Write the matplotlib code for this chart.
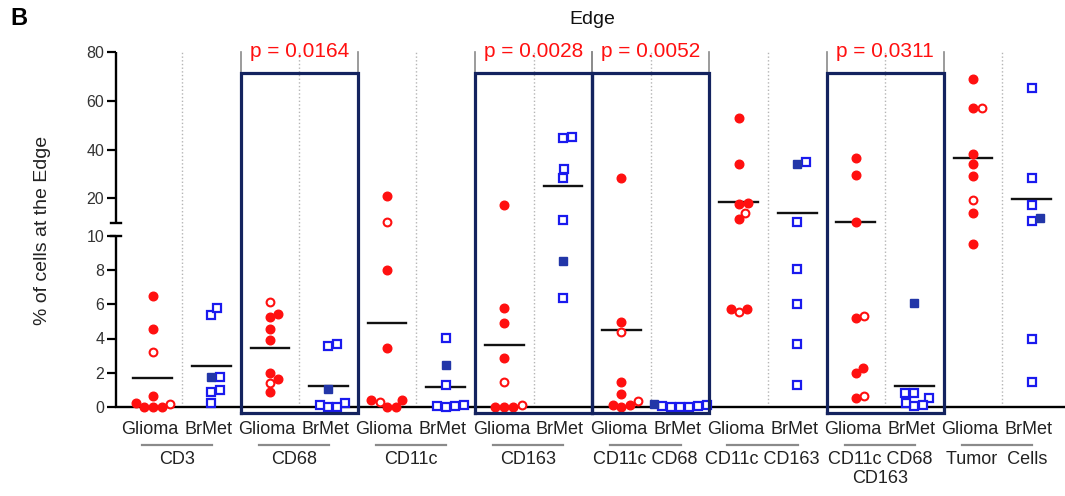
import matplotlib
matplotlib.use("Agg")
import matplotlib.pyplot as plt
import numpy as np
from matplotlib.transforms import blended_transform_factory

plt.rcParams['font.family'] = ['Liberation Sans', 'DejaVu Sans']

# ---- data -------------------------------------------------------------
groups = ["CD3", "CD68", "CD11c", "CD163", "CD11c CD68", "CD11c CD163",
          "CD11c CD68\nCD163", "Tumor  Cells"]

glioma = [
    [6.47, 4.54, 3.19, 0.65, 0.23, 0, 0, 0.14, 0],
    [6.16, 5.26, 5.42, 4.54, 3.91, 1.96, 1.41, 1.61, 0.84],
    [21.1, 10.4, 8.02, 3.43, 0.39, 0.39, 0, 0, 0.29],
    [17.3, 5.77, 4.89, 2.84, 1.45, 0, 0.1, 0, 0],
    [28.3, 4.97, 4.38, 1.47, 0.73, 0.33, 0, 0.1, 0.1],
    [53.0, 34.3, 17.7, 18.2, 13.9, 11.4, 5.54, 5.73, 5.71],
    [36.7, 29.6, 10.4, 5.2, 5.33, 2.0, 2.29, 0.49, 0.63],
    [69.0, 57.0, 57.3, 38.1, 34.1, 29.3, 19.2, 14.1, 9.56],
]
# 1 = open circle
glioma_open = [
    [0, 0, 1, 0, 0, 0, 0, 1, 0],
    [1, 0, 0, 0, 0, 0, 1, 0, 0],
    [0, 1, 0, 0, 0, 0, 0, 0, 1],
    [0, 0, 0, 0, 1, 0, 1, 0, 0],
    [0, 0, 1, 0, 0, 1, 0, 0, 0],
    [0, 0, 0, 0, 1, 0, 1, 0, 0],
    [0, 0, 0, 0, 1, 0, 0, 0, 1],
    [0, 0, 1, 0, 0, 0, 1, 0, 0],
]

brmet = [
    [5.38, 5.77, 1.72, 1.72, 0.84, 1.0, 0.2],
    [3.58, 3.68, 1.06, 0, 0.2, 0, 0.12],
    [4.05, 2.45, 1.27, 0, 0.06, 0.04, 0.1],
    [44.9, 45.3, 32.0, 28.5, 11.2, 8.56, 6.39],
    [0.05, 0.15, 0.1, 0.05, 0, 0, 0],
    [34.1, 34.9, 10.4, 8.06, 6.0, 3.68, 1.27],
    [6.06, 0.82, 0.82, 0.49, 0.04, 0.2, 0.1],
    [65.2, 28.5, 17.3, 10.6, 11.8, 3.99, 1.47],
]
# 1 = filled square
brmet_filled = [
    [0, 0, 1, 0, 0, 0, 0],
    [0, 0, 1, 0, 0, 0, 0],
    [0, 1, 0, 0, 0, 0, 0],
    [0, 0, 0, 0, 0, 1, 0],
    [0, 1, 0, 0, 0, 0, 0],
    [1, 0, 0, 0, 0, 0, 0],
    [1, 0, 0, 0, 0, 0, 0],
    [0, 0, 0, 0, 1, 0, 0],
]

boxed = [1, 3, 4, 6]
pvals = ["p = 0.0164", "p = 0.0028", "p = 0.0052", "p = 0.0311"]

yticks = [0, 2, 4, 6, 8, 10, 20, 40, 60, 80]

# ---- broken y scale (pixel units) ---------------------------------------
A = 17.05     # px per unit below break
B = 2.435     # px per unit above break
GAP = 13.5
BRK = 10.0


def fwd(v):
    v = np.asarray(v, float)
    return np.where(v <= BRK, v * A, BRK * A + GAP + (v - BRK) * B)


def inv(u):
    u = np.asarray(u, float)
    return np.where(u <= BRK * A, u / A,
                    np.where(u < BRK * A + GAP, BRK, BRK + (u - BRK * A - GAP) / B))


XPX = 58.57   # px per x unit
D = 8.6       # marker spacing in px


def swarm(vals):
    y = fwd(vals)
    xs = np.zeros(len(vals))
    placed = []
    cands = [0.0]
    for k in np.arange(0.5, 80, 0.5):
        cands += [k, -k]
    for i in np.argsort(y, kind="stable"):
        for c in cands:
            ok = True
            for (px, py) in placed:
                if (c - px) ** 2 + (y[i] - py) ** 2 < D ** 2:
                    ok = False
                    break
            if ok:
                xs[i] = c
                placed.append((c, y[i]))
                break
    return xs / XPX


W, H = 1065, 496
fig = plt.figure(figsize=(W / 100, H / 100), dpi=100)
ax_h = float(fwd(80))
ax = fig.add_axes([116 / W, (H - 406.7) / H, (W - 116) / W, ax_h / H])
ax.set_yscale('function', functions=(fwd, inv))
ax.set_ylim(0, 80)
ax.set_xlim(-0.626, 15.57)

red = "#ff1010"
blue = "#1a1aee"
dblue = "#2236a8"
navy = "#14235f"

# dotted separators in the middle of each pair
for k in range(len(groups)):
    ax.plot([2 * k + 0.5, 2 * k + 0.5], [0, 80], ls=":", color="#b5b5b5", lw=1, zorder=1)

# data points + means
for k in range(len(groups)):
    g = np.array(glioma[k])
    gx = 2 * k + swarm(g)
    go = np.array(glioma_open[k], bool)
    ax.plot(gx[~go], g[~go], 'o', ms=6.2, color=red, mec=red, ls="none", clip_on=False, zorder=4)
    ax.plot(gx[go], g[go], 'o', ms=5.6, mfc="white", mec=red, mew=1.5, ls="none", clip_on=False, zorder=4)
    ax.plot([2 * k - 0.33, 2 * k + 0.33], [g.mean()] * 2, color="#111111", lw=1.7, zorder=3)

    b = np.array(brmet[k])
    bx = 2 * k + 1 + swarm(b)
    bf = np.array(brmet_filled[k], bool)
    ax.plot(bx[~bf], b[~bf], 's', ms=5.6, mfc="white", mec=blue, mew=1.6, ls="none", clip_on=False, zorder=4)
    ax.plot(bx[bf], b[bf], 's', ms=6.4, color=dblue, mec=dblue, ls="none", clip_on=False, zorder=4)
    ax.plot([2 * k + 1 - 0.33, 2 * k + 1 + 0.33], [b.mean()] * 2, color="#111111", lw=1.7, zorder=3)

# significance boxes and brackets
for k, p in zip(boxed, pvals):
    x0, x1 = 2 * k - 0.5, 2 * k + 1.5
    ax.plot([x0, x1, x1, x0, x0], [-0.37, -0.37, 71.5, 71.5, -0.37], color=navy, lw=2.3,
            clip_on=False, zorder=5, solid_joinstyle="miter")
    for xe in (x0, x1):
        ax.plot([xe, xe], [71.5, 80], color="#8a8a8a", lw=1.2, clip_on=False, zorder=2)
    ax.text(2 * k + 0.5, 78.1, p, color=red, fontsize=15, ha="center", va="baseline", clip_on=False)

# axes styling
for s in ("top", "right", "left"):
    ax.spines[s].set_visible(False)
ax.spines["bottom"].set_linewidth(1.7)
ax.spines["bottom"].set_zorder(3)

ytr = ax.get_yaxis_transform()
cap = 5 / (W - 116)
ax.plot([0, 0], [0, BRK], color="black", lw=1.7, transform=ytr, clip_on=False, solid_capstyle="butt")
ax.plot([0, 0], [BRK + 1e-4, 80], color="black", lw=1.7, transform=ytr, clip_on=False, solid_capstyle="butt")
ax.plot([-cap, cap], [BRK, BRK], color="black", lw=1.7, transform=ytr, clip_on=False)
ax.plot([-cap, cap], [BRK + 1e-4, BRK + 1e-4], color="black", lw=1.7, transform=ytr, clip_on=False)

ax.set_yticks(yticks)
ax.set_yticklabels([str(t) for t in yticks])
ax.tick_params(axis="y", length=6.5, width=1.6, pad=2, labelsize=11.5, labelcolor="#333333")

xt = np.arange(2 * len(groups))
ax.set_xticks(xt - 0.05)
ax.set_xticklabels(["Glioma", "BrMet"] * len(groups))
ax.tick_params(axis="x", length=0, pad=10, labelsize=13, labelcolor="#222222")

btr = blended_transform_factory(ax.transData, ax.transAxes)
for k, name in enumerate(groups):
    mid = 2 * k + 0.5 - 0.09
    ax.plot([mid - 0.6, mid + 0.6], [-0.108, -0.108], color="#8a8a8a", lw=1.6,
            transform=btr, clip_on=False)
    ax.text(mid, -0.126, name, transform=btr, ha="center", va="top", fontsize=13,
            color="#222222", linespacing=1.15)

fig.text(43 / W, 1 - 230 / H, "% of cells at the Edge", rotation=90, ha="center", va="center",
         fontsize=14, color="#222222")
fig.text(592 / W, 1 - 24 / H, "Edge", ha="center", va="baseline", fontsize=14, color="#111111")
fig.text(10 / W, 1 - 25 / H, "B", ha="left", va="baseline", fontsize=17, fontweight="bold")

fig.savefig("out.png", dpi=100)
